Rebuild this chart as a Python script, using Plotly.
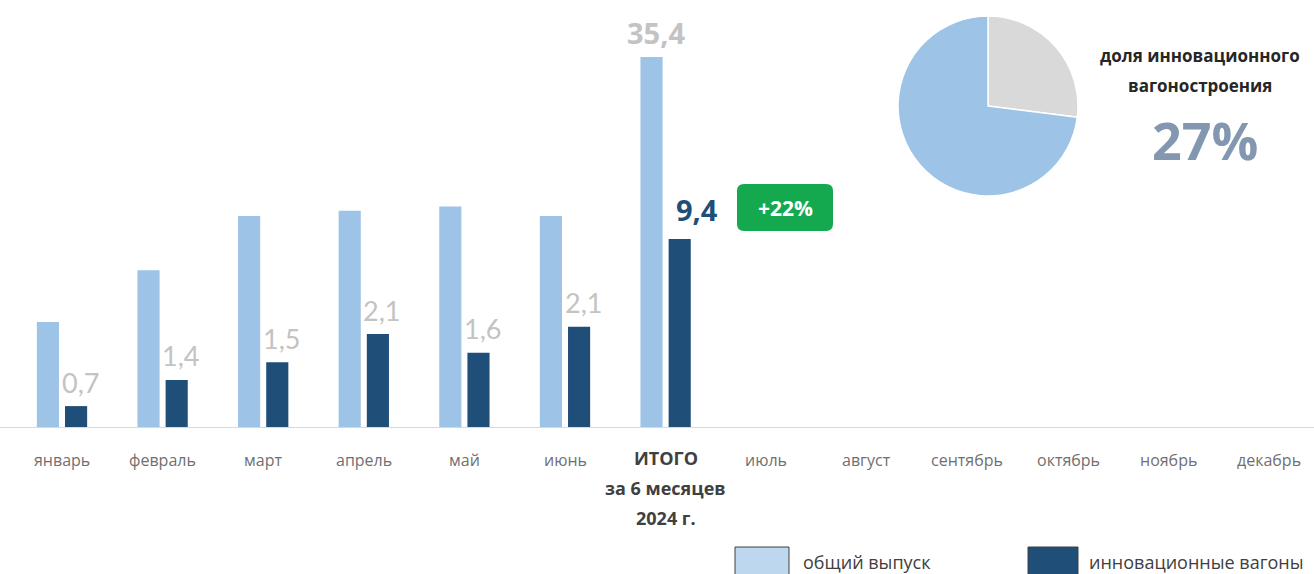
import plotly.graph_objects as go

# ---- data -------------------------------------------------------------
categories = ["январь", "февраль", "март", "апрель", "май", "июнь", "ИТОГО",
              "июль", "август", "сентябрь", "октябрь", "ноябрь", "декабрь"]
# bar heights as drawn in the picture (chart units, total = 35,4)
total_output = [10.05, 15.0, 20.2, 20.7, 21.1, 20.2, 35.4,
                None, None, None, None, None, None]
innovative = [2.0, 4.5, 6.2, 8.9, 7.1, 9.6, 18.0,
              None, None, None, None, None, None]
innovative_labels = ["0,7", "1,4", "1,5", "2,1", "1,6", "2,1"]
total_label = "35,4"
innovative_total_label = "9,4"
growth_label = "+22%"
pie_labels = ["инновационные вагоны", "прочие"]
pie_values = [27, 73]
share_label = "27%"

LIGHT = "#9dc3e6"
DARK = "#1f4e79"
GRAY_TXT = "#c3c3c3"
AX_TXT = "#707070"

W, H = 1314, 574
MT, MB = 0, 147
PH = H - MT - MB  # plot height in px


def py(px):
    """paper y for pixel row px"""
    return 1 - (px - MT) / PH


def pxx(px):
    return px / W


x_idx = list(range(len(categories)))

fig = go.Figure()
fig.add_trace(go.Bar(x=x_idx, y=total_output, name="общий выпуск",
                     marker=dict(color=LIGHT, line=dict(width=0)),
                     width=0.22, offset=-0.25, showlegend=False,
                     hoverinfo="skip"))
fig.add_trace(go.Bar(x=x_idx, y=innovative, name="инновационные вагоны",
                     marker=dict(color=DARK, line=dict(width=0)),
                     width=0.22, offset=0.03, showlegend=False,
                     hoverinfo="skip"))

fig.add_trace(go.Pie(labels=pie_labels, values=pie_values, sort=False,
                     direction="clockwise", rotation=0,
                     marker=dict(colors=["#d9d9d9", LIGHT],
                                 line=dict(color="white", width=1.5)),
                     textinfo="none", hoverinfo="skip", showlegend=False,
                     domain=dict(x=[pxx(898), pxx(1078)],
                                 y=[py(197), py(15)])))

annotations = []
# value labels above the dark month bars
for i, t in enumerate(innovative_labels):
    annotations.append(dict(x=i + 0.18, y=innovative[i], xref="x", yref="y",
                            text=t, showarrow=False, xanchor="center",
                            yanchor="middle", yshift=24,
                            font=dict(family="Lato", size=27, color=GRAY_TXT)))
# totals
annotations.append(dict(x=6 - 0.10, y=total_output[6], xref="x", yref="y",
                        text="<b>%s</b>" % total_label, showarrow=False,
                        xanchor="center", yanchor="middle", yshift=25,
                        font=dict(family="Open Sans", size=29, color=GRAY_TXT)))
annotations.append(dict(x=6 + 0.31, y=innovative[6], xref="x", yref="y",
                        text="<b>%s</b>" % innovative_total_label,
                        showarrow=False, xanchor="center", yanchor="middle",
                        yshift=29,
                        font=dict(family="Open Sans", size=29, color=DARK)))
# growth badge (rounded box drawn as a shape, text as annotation)
bx0, bx1, by0, by1, r = 737, 833, 184, 231, 7
badge_path = (
    f"M {pxx(bx0 + r)},{py(by0)} L {pxx(bx1 - r)},{py(by0)} "
    f"Q {pxx(bx1)},{py(by0)} {pxx(bx1)},{py(by0 + r)} "
    f"L {pxx(bx1)},{py(by1 - r)} Q {pxx(bx1)},{py(by1)} {pxx(bx1 - r)},{py(by1)} "
    f"L {pxx(bx0 + r)},{py(by1)} Q {pxx(bx0)},{py(by1)} {pxx(bx0)},{py(by1 - r)} "
    f"L {pxx(bx0)},{py(by0 + r)} Q {pxx(bx0)},{py(by0)} {pxx(bx0 + r)},{py(by0)} Z"
)
annotations.append(dict(x=pxx(785), y=py(207.5), xref="paper", yref="paper",
                        text="<b>%s</b>" % growth_label, showarrow=False,
                        xanchor="center", yanchor="middle",
                        font=dict(family="Open Sans", size=21, color="white")))
# category labels
for i, c in enumerate(categories):
    if c == "ИТОГО":
        for txt, yy in (("ИТОГО", 458), ("за 6 месяцев", 488), ("2024 г.", 518)):
            annotations.append(dict(x=i, y=py(yy), xref="x", yref="paper",
                                    text="<b>%s</b>" % txt, showarrow=False,
                                    xanchor="center", yanchor="middle",
                                    font=dict(family="Open Sans", size=18,
                                              color="#404040")))
    else:
        annotations.append(dict(x=i, y=py(460), xref="x", yref="paper",
                                text=c, showarrow=False, xanchor="center",
                                yanchor="middle",
                                font=dict(family="Open Sans", size=16,
                                          color=AX_TXT)))
# pie caption
annotations.append(dict(x=pxx(1200), y=py(55), xref="paper", yref="paper",
                        text="<b>доля инновационного</b>", showarrow=False,
                        xanchor="center", yanchor="middle",
                        font=dict(family="Open Sans", size=17, color="#262626")))
annotations.append(dict(x=pxx(1200), y=py(85), xref="paper", yref="paper",
                        text="<b>вагоностроения</b>", showarrow=False,
                        xanchor="center", yanchor="middle",
                        font=dict(family="Open Sans", size=17, color="#262626")))
annotations.append(dict(x=pxx(1205), y=py(140), xref="paper", yref="paper",
                        text="<b>%s</b>" % share_label, showarrow=False,
                        xanchor="center", yanchor="middle",
                        font=dict(family="Open Sans", size=52, color="#8497b0")))
# custom legend
annotations.append(dict(x=pxx(801), y=py(562), xref="paper", yref="paper",
                        text="общий выпуск", showarrow=False, xanchor="left",
                        yanchor="middle",
                        font=dict(family="Open Sans", size=18, color="#404040")))
annotations.append(dict(x=pxx(1087), y=py(562), xref="paper", yref="paper",
                        text="инновационные вагоны", showarrow=False,
                        xanchor="left", yanchor="middle",
                        font=dict(family="Open Sans", size=18, color="#404040")))

shapes = [
    dict(type="path", xref="paper", yref="paper", path=badge_path,
         fillcolor="#14a94f", line=dict(width=0), layer="below"),
    dict(type="rect", xref="paper", yref="paper", x0=pxx(735), x1=pxx(789),
         y0=py(590), y1=py(547), fillcolor="#bdd7ee",
         line=dict(color="#404040", width=1)),
    dict(type="rect", xref="paper", yref="paper", x0=pxx(1028), x1=pxx(1078),
         y0=py(590), y1=py(547), fillcolor=DARK,
         line=dict(color="#404040", width=1)),
]

px_per_cat = 100.6
x0_px = 62
fig.update_layout(
    width=W, height=H,
    margin=dict(l=0, r=0, t=MT, b=MB, pad=0),
    paper_bgcolor="white", plot_bgcolor="white",
    barmode="overlay",
    annotations=annotations, shapes=shapes,
    xaxis=dict(range=[-x0_px / px_per_cat, (W - x0_px) / px_per_cat],
               showticklabels=False, showgrid=False, zeroline=False,
               showline=True, linecolor="#d9d9d9", linewidth=1, ticks=""),
    yaxis=dict(range=[0, PH / 10.45], showticklabels=False, showgrid=False,
               zeroline=False, showline=False),
)

fig.write_html("out.html", config={"displayModeBar": False},
               post_script="document.body.style.margin='0';"
                           "document.body.style.overflow='hidden';")
